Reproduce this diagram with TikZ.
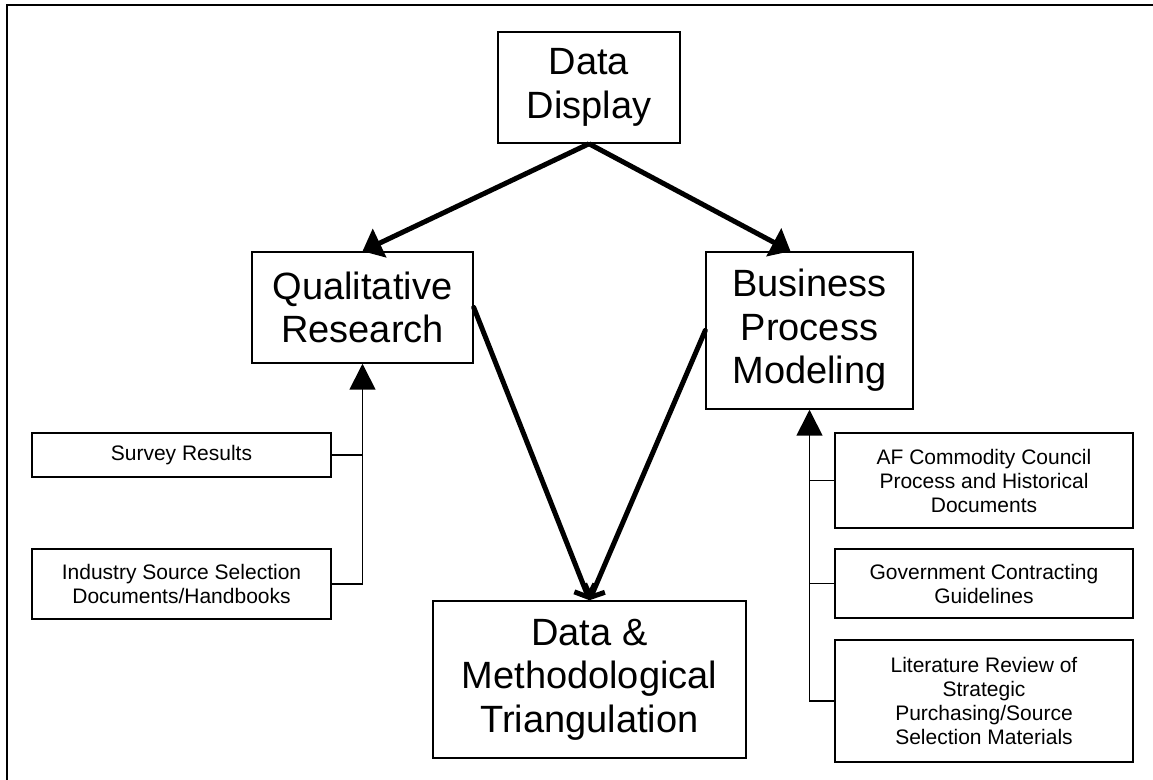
\documentclass[tikz,border=0pt]{standalone}
\usepackage{fontspec}
\setmainfont{Liberation Sans}
\usetikzlibrary{arrows.meta}

\tikzset{
  bigbox/.style={draw, line width=0.75pt, align=center, inner sep=0pt,
    font=\fontsize{19}{21.8}\selectfont},
  smallbox/.style={draw, line width=0.75pt, align=center, inner sep=0pt,
    font=\fontsize{10.5}{12}\selectfont},
  fatarrow/.style={line width=2.5pt, -{Triangle[length=9.5pt,width=15.5pt]}},
  downarrow/.style={line width=2.5pt, line cap=round, line join=round,
    -{Straight Barb[length=5pt,width=11pt]}},
  thinarrow/.style={line width=0.85pt, -{Triangle[length=13pt,width=13pt]}},
  thinline/.style={line width=0.85pt}
}

\begin{document}
\begin{tikzpicture}[x=0.5pt,y=-0.5pt]
            \useasboundingbox (0,0) rectangle (1153,780);

            % frame
            \draw[line width=1pt] (7,780) -- (7,5) -- (1153,5);

            % main boxes
            \node[bigbox, minimum width=91pt, minimum height=55.5pt] (dd) at (589,87.5) {Data\\Display};
            \node[bigbox, minimum width=110.5pt, minimum height=55.5pt] (qual) at (362.5,307.5) {Qualitative\\Research};
            \node[bigbox, minimum width=103.5pt, minimum height=78.5pt] (bpm) at (809.5,330.5) {Business\\Process\\Modeling};
            \node[bigbox, minimum width=156.5pt, minimum height=78.5pt] (tri) at (589.5,679.5) {Data \&\\Methodological\\Triangulation};

            % sources on the left
            \node[smallbox, minimum width=149.5pt, minimum height=22pt] (survey) at (181.5,455) {Survey Results};
            \node[smallbox, minimum width=149.5pt, minimum height=35pt] (industry) at (181.5,584) {Industry Source Selection\\Documents/Handbooks};

            % sources on the right
            \node[smallbox, minimum width=149pt, minimum height=47.5pt] (afcc) at (984,480.5) {AF Commodity Council\\Process and Historical\\Documents};
            \node[smallbox, minimum width=149pt, minimum height=34.5pt] (govt) at (984,583.5) {Government Contracting\\Guidelines};
            \node[smallbox, minimum width=149pt, minimum height=61pt] (litrev) at (984,701) {Literature Review of\\Strategic\\Purchasing/Source\\Selection Materials};

            % big arrows
            \draw[fatarrow] (dd.south) -- (qual.north);
            \draw[fatarrow] (dd.south) -- ([xshift=-9.5pt]bpm.north);
            \draw[downarrow] (qual.east) -- (tri.north);
            \draw[downarrow] (bpm.west) -- (tri.north);

            % feeds into qualitative research
            \draw[thinarrow] (industry.east) -| (qual.south);
            \draw[thinline] (survey.east) -- (survey.east -| qual.south);

            % feeds into business process modeling
            \draw[thinarrow] (litrev.west) -| (bpm.south);
            \draw[thinline] (afcc.west) -- (afcc.west -| bpm.south);
            \draw[thinline] (govt.west) -- (govt.west -| bpm.south);
\end{tikzpicture}
\end{document}
